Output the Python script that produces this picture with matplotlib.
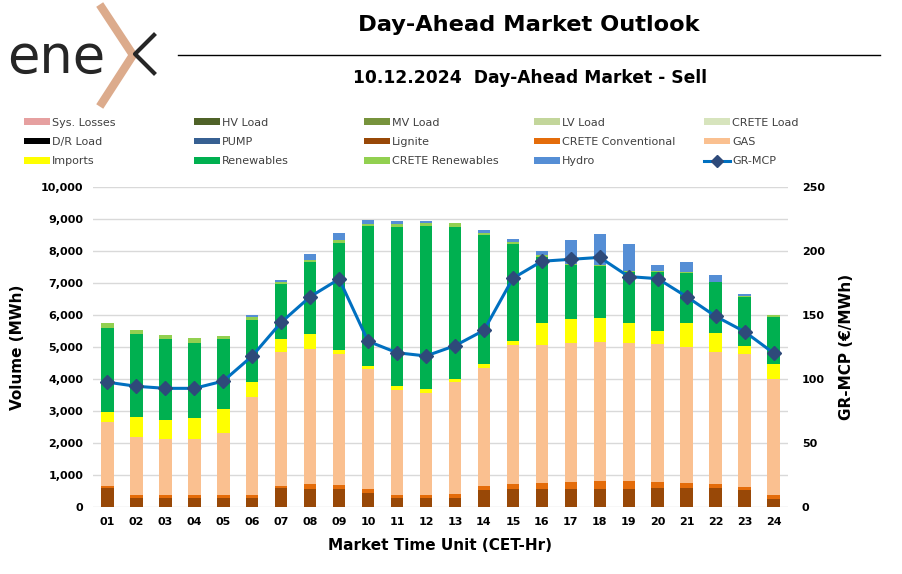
import matplotlib
matplotlib.use("Agg")
import matplotlib.pyplot as plt
from matplotlib.lines import Line2D
from matplotlib.patches import Patch

plt.rcParams['font.family'] = ['DejaVu Sans']

hours = ["%02d" % h for h in range(1, 25)]

# MWh per hour
lignite = [590, 280, 280, 280, 280, 280, 590, 560, 560, 450, 270, 270,
           270, 520, 570, 570, 570, 570, 570, 585, 585, 585, 520, 260]
crete_conv = [80, 80, 80, 80, 80, 80, 80, 155, 135, 115, 100, 100,
              125, 135, 135, 180, 205, 240, 240, 200, 175, 135, 105, 115]
gas = [2000, 1840, 1760, 1760, 1960, 3090, 4170, 4220, 4100, 3750, 3300, 3200,
       3500, 3700, 4360, 4320, 4335, 4350, 4310, 4300, 4240, 4125, 4165, 3615]
imports = [310, 600, 610, 660, 740, 460, 395, 480, 105, 105, 115, 115,
           115, 115, 125, 690, 760, 750, 635, 425, 740, 595, 230, 480]
renewables = [2620, 2620, 2510, 2360, 2180, 1940, 1740, 2240, 3365, 4365, 4950, 5100,
              4750, 4030, 3040, 2060, 1700, 1625, 1595, 1845, 1560, 1585, 1530, 1480]
crete_ren = [140, 125, 135, 135, 115, 75, 60, 60, 75, 60, 105, 95,
             125, 60, 50, 55, 30, 20, 30, 20, 50, 20, 40, 60]
hydro = [0, 0, 0, 0, 0, 60, 60, 190, 210, 125, 105, 60,
         0, 95, 85, 125, 730, 970, 845, 180, 300, 210, 60, 0]
zeros = [0] * 24
sys_losses = zeros
hv_load = zeros
mv_load = zeros
lv_load = zeros
crete_load = zeros
dr_load = zeros
pump = zeros

# EUR/MWh
gr_mcp = [97.5, 94.3, 92.7, 92.7, 98.4, 118, 144.3, 164.3, 178.1, 129.5, 120.5, 118,
          126, 138, 178.7, 192, 193.5, 195, 180, 178.4, 164.3, 149, 137, 120.3]

stack = [
    ("Lignite", lignite, "#984807"),
    ("CRETE Conventional", crete_conv, "#e46c0a"),
    ("GAS", gas, "#fac090"),
    ("Imports", imports, "#ffff00"),
    ("Renewables", renewables, "#00b050"),
    ("CRETE Renewables", crete_ren, "#92d050"),
    ("Hydro", hydro, "#558ed5"),
    ("Sys. Losses", sys_losses, "#e6a0a0"),
    ("HV Load", hv_load, "#4f6228"),
    ("MV Load", mv_load, "#77933c"),
    ("LV Load", lv_load, "#c3d69b"),
    ("CRETE Load", crete_load, "#d7e4bd"),
    ("D/R Load", dr_load, "#000000"),
    ("PUMP", pump, "#376092"),
]

fig = plt.figure(figsize=(9.03, 5.74), dpi=100)
ax = fig.add_axes([93 / 903, 1 - 507 / 574, 695 / 903, 320 / 574])

x = list(range(1, 25))
bottom = [0] * 24
colors = {}
for name, vals, col in stack:
    ax.bar(x, vals, width=0.43, bottom=bottom, color=col, linewidth=0, zorder=2)
    bottom = [b + v for b, v in zip(bottom, vals)]
    colors[name] = col

ax.set_xlim(0.5, 24.5)
ax.set_ylim(0, 10000)
ax.set_yticks(range(0, 10001, 1000))
ax.set_yticklabels(["{:,}".format(v) for v in range(0, 10001, 1000)])
ax.set_xticks(x)
ax.set_xticklabels(hours)
ax.grid(axis='y', color='#d9d9d9', linewidth=1, zorder=0)
ax.set_axisbelow(True)
for s in ax.spines.values():
    s.set_visible(False)
ax.tick_params(length=0, labelsize=8, pad=7)
for t in ax.get_xticklabels() + ax.get_yticklabels():
    t.set_fontweight('bold')
ax.set_ylabel("Volume (MWh)", fontsize=11, fontweight='bold', labelpad=11)
ax.set_xlabel("Market Time Unit (CET-Hr)", fontsize=11, fontweight='bold', labelpad=8)

ax2 = ax.twinx()
ax2.plot(x, gr_mcp, color='#0070c0', linewidth=2.2, marker='D', markersize=7.5,
         markerfacecolor='#2e4a7a', markeredgecolor='#2e4a7a', zorder=5)
ax2.set_ylim(0, 250)
ax2.set_yticks(range(0, 251, 50))
for s in ax2.spines.values():
    s.set_visible(False)
ax2.tick_params(length=0, labelsize=8, pad=10)
for t in ax2.get_yticklabels():
    t.set_fontweight('bold')
ax2.set_ylabel("GR-MCP (€/MWh)", fontsize=11, fontweight='bold', labelpad=10)

# legend, five fixed-position columns
legend_rows = [
    ["Sys. Losses", "HV Load", "MV Load", "LV Load", "CRETE Load"],
    ["D/R Load", "PUMP", "Lignite", "CRETE Conventional", "GAS"],
    ["Imports", "Renewables", "CRETE Renewables", "Hydro", "GR-MCP"],
]
col_x = [24, 194, 364, 534, 704]
for c in range(5):
    handles = []
    labels = []
    for r in range(3):
        name = legend_rows[r][c]
        if name == "GR-MCP":
            handles.append(Line2D([], [], color='#0070c0', linewidth=2.2, marker='D',
                                  markersize=6, markerfacecolor='#2e4a7a',
                                  markeredgecolor='#2e4a7a'))
        else:
            handles.append(Patch(facecolor=colors[name], linewidth=0))
        labels.append(name)
    fig.legend(handles, labels, loc='upper left',
               bbox_to_anchor=(col_x[c] / 903, 1 - 117.5 / 574),
               frameon=False, fontsize=8, handlelength=2.35, handleheight=0.55,
               handletextpad=0.2, labelspacing=0.85, borderpad=0,
               borderaxespad=0, labelcolor='#404040')

# header
fig.text(529 / 903, 1 - 25 / 574, "Day-Ahead Market Outlook", ha='center', va='center',
         fontsize=16.2, fontweight='bold')
fig.text(530 / 903, 1 - 78 / 574, "10.12.2024  Day-Ahead Market - Sell", ha='center',
         va='center', fontsize=12.3, fontweight='bold')
fig.add_artist(Line2D([178 / 903, 880 / 903], [1 - 55 / 574, 1 - 55 / 574],
                      color='black', linewidth=1, transform=fig.transFigure))

# logo
def px(xs, ys):
    return [v / 903 for v in xs], [1 - v / 574 for v in ys]

cx, cy = px([102, 133, 102], [8, 55, 103])
fig.add_artist(Line2D(cx, cy, color='#dcab8c', linewidth=6, solid_joinstyle='miter',
                      transform=fig.transFigure))
fig.text(7 / 903, 1 - 73 / 574, "ene", fontsize=38, color='#262626',
         va='baseline', ha='left')
dx, dy = px([154, 135, 154], [35, 54, 73])
fig.add_artist(Line2D(dx, dy, color='#262626', linewidth=3, transform=fig.transFigure))

fig.savefig("out.png", dpi=100)
